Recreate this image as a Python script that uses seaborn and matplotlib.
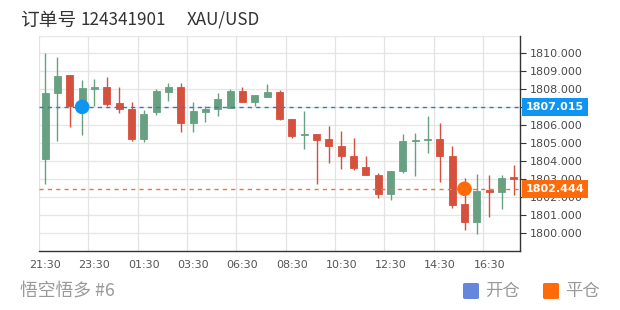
import matplotlib
matplotlib.use("Agg")
import matplotlib.pyplot as plt
from matplotlib.patches import FancyBboxPatch
from matplotlib.transforms import blended_transform_factory
import numpy as np
import pandas as pd
import seaborn as sns

# ---------------- data ----------------
times = ["21:30", "22:00", "22:30", "23:00", "23:30", "00:00", "00:30", "01:00",
         "01:30", "02:00", "02:30", "03:00", "03:30", "04:00", "04:30", "06:00",
         "06:30", "07:00", "07:30", "08:00", "08:30", "09:00", "09:30", "10:00",
         "10:30", "11:00", "11:30", "12:00", "12:30", "13:00", "13:30", "14:00",
         "14:30", "15:00", "15:30", "16:00", "16:30", "17:00", "17:30"]
opens = [1804.11, 1807.78, 1808.80, 1807.07, 1808.00, 1808.13, 1807.26, 1806.91,
         1805.24, 1806.72, 1807.87, 1808.15, 1806.11, 1806.72, 1806.89, 1806.94,
         1807.91, 1807.28, 1807.59, 1807.83, 1806.35, 1805.43, 1805.52, 1805.24,
         1804.85, 1804.30, 1803.65, 1803.20, 1802.17, 1803.43, 1805.13, 1805.15,
         1805.22, 1804.30, 1801.57, 1800.61, 1802.37, 1802.28, 1803.09]
highs = [1810.04, 1809.78, 1808.80, 1808.52, 1808.57, 1808.70, 1808.15, 1807.30,
         1806.85, 1808.00, 1808.33, 1808.37, 1807.31, 1807.07, 1807.78, 1808.00,
         1808.15, 1807.69, 1808.30, 1807.96, 1806.35, 1806.81, 1805.52, 1805.93,
         1805.65, 1805.28, 1804.30, 1803.33, 1803.43, 1805.50, 1805.56, 1806.52,
         1806.11, 1804.81, 1803.06, 1803.28, 1803.19, 1803.19, 1803.80]
lows = [1802.69, 1805.13, 1805.87, 1805.43, 1807.07, 1807.07, 1806.70, 1805.13,
        1805.04, 1806.57, 1807.37, 1805.61, 1805.63, 1806.20, 1806.48, 1806.94,
        1807.28, 1807.04, 1807.59, 1806.30, 1805.28, 1804.69, 1802.69, 1803.89,
        1803.56, 1803.48, 1803.20, 1801.94, 1801.80, 1803.33, 1803.15, 1804.44,
        1802.81, 1801.39, 1800.13, 1799.94, 1800.87, 1801.30, 1802.09]
closes = [1807.78, 1808.76, 1807.07, 1808.06, 1808.13, 1807.20, 1806.91, 1805.24,
          1806.63, 1807.89, 1808.15, 1806.11, 1806.81, 1806.91, 1807.48, 1807.93,
          1807.28, 1807.69, 1807.87, 1806.33, 1805.37, 1805.48, 1805.19, 1804.85,
          1804.26, 1803.61, 1803.20, 1802.13, 1803.43, 1805.09, 1805.19, 1805.24,
          1804.30, 1801.54, 1800.59, 1802.31, 1802.28, 1803.06, 1802.98]

open_price = 1807.015
close_price = 1802.444
open_index = 3
close_index = 34

y_ticks = [1800, 1801, 1802, 1803, 1804, 1805, 1806, 1807, 1808, 1809, 1810]

order_word = "订单号"
order_number = "124341901"
symbol_label = "XAU/USD"
footer_text = "悟空悟多 #6"
legend_labels = ["开仓", "平仓"]

# ---------------- style ----------------
sns.set_style("white")
plt.rcParams["font.family"] = ["Noto Sans CJK SC", "DejaVu Sans"]

UP = "#67a182"
DOWN = "#d6503e"
BLUE = "#0e95f2"
ORANGE = "#ff6a0a"
NUM_FONT = "DejaVu Sans"

df = pd.DataFrame({"t": times, "open": opens, "high": highs,
                   "low": lows, "close": closes})
df["x"] = np.arange(len(df))
df["up"] = df["close"] >= df["open"]
df["color"] = np.where(df["up"], UP, DOWN)

fig = plt.figure(figsize=(6.2, 3.1), dpi=100)
ax = fig.add_axes([39 / 620, 1 - 250.5 / 310, 481 / 620, 215 / 310])

# grid
for v in y_ticks + [1811]:
    ax.axhline(v, color="#e6e6e6", lw=0.9, zorder=0)
for i in range(0, len(df), 4):
    ax.axvline(i - 0.5, color="#e3e3e3", lw=0.9, zorder=0)

# wicks
ax.vlines(df["x"], df["low"], df["high"], colors=df["color"], lw=1.0, zorder=2)
# bodies
body_h = (df["close"] - df["open"]).abs().clip(lower=0.06)
body_b = df[["open", "close"]].min(axis=1)
ax.bar(df["x"], body_h, bottom=body_b, width=0.55, color=df["color"],
       edgecolor=df["color"], linewidth=0.6, zorder=3)

# reference dashed lines
ax.axhline(open_price, color="#2f7cbf", lw=1.0, ls=(0, (3, 3)), zorder=4)
ax.axhline(close_price, color="#e8773f", lw=1.0, ls=(0, (3, 3)), zorder=4)

# markers
mk = pd.DataFrame({"x": [open_index, close_index],
                   "y": [open_price, close_price],
                   "kind": legend_labels})
sns.scatterplot(data=mk, x="x", y="y", hue="kind",
                palette={legend_labels[0]: BLUE, legend_labels[1]: ORANGE},
                s=110, edgecolor="none", legend=False, zorder=5, ax=ax)

ax.set_xlim(-0.5, len(df) - 0.5)
ax.set_ylim(1799, 1811)

# axes styling
ax.yaxis.tick_right()
ax.set_yticks(y_ticks)
# the 1807 label sits under the open-price badge in the reference
ax.set_yticklabels(["" if v == 1807 else f"{v:.3f}" for v in y_ticks],
                   family=NUM_FONT)
ax.set_xticks(df["x"][::4])
ax.set_xticklabels(df["t"][::4], family=NUM_FONT)
ax.tick_params(axis="y", direction="out", length=4, width=0.8, color="#333333",
               labelsize=8, labelcolor="#4a4a4a", pad=3, right=True, left=False)
ax.tick_params(axis="x", direction="out", length=4, width=0.8, color="#333333",
               labelsize=8, labelcolor="#555555", pad=3)
for s in ["left", "top"]:
    ax.spines[s].set_visible(False)
for s in ["right", "bottom"]:
    ax.spines[s].set_visible(True)
    ax.spines[s].set_color("#333333")
    ax.spines[s].set_linewidth(1.0)
ax.set_xlabel("")
ax.set_ylabel("")

# value badges on right axis
tr = blended_transform_factory(ax.transAxes, ax.transData)
for val, col in [(open_price, BLUE), (close_price, ORANGE)]:
    ax.text(1.012, val, f"{val:.3f}", transform=tr, ha="left", va="center",
            fontsize=8, fontweight="bold", color="white", family=NUM_FONT,
            bbox=dict(boxstyle="square,pad=0.35", fc=col, ec="none"),
            zorder=10, clip_on=False)

# title and footer
fig.text(20 / 620, 1 - 20 / 310, order_word, fontsize=13.5, color="#333333",
         ha="left", va="center")
fig.text(81 / 620, 1 - 20 / 310, order_number, fontsize=12.3, color="#333333",
         ha="left", va="center")
fig.text(187 / 620, 1 - 20 / 310, symbol_label, fontsize=12.3, color="#333333",
         ha="left", va="center")
fig.text(20 / 620, 1 - 291 / 310, footer_text, fontsize=12.8, color="#999999",
         ha="left", va="center")

# legend
for (lx, col, lab) in [(463, "#6686dc", legend_labels[0]),
                       (543, ORANGE, legend_labels[1])]:
    fig.add_artist(FancyBboxPatch((lx / 620, 1 - 299 / 310), 16 / 620, 16 / 310,
                                  boxstyle="round,pad=0,rounding_size=0.004",
                                  transform=fig.transFigure, fc=col, ec="none"))
    fig.text((lx + 22) / 620, 1 - 291 / 310, lab, fontsize=12.5,
             color="#999999", ha="left", va="center")

fig.savefig("out.png", dpi=100)
